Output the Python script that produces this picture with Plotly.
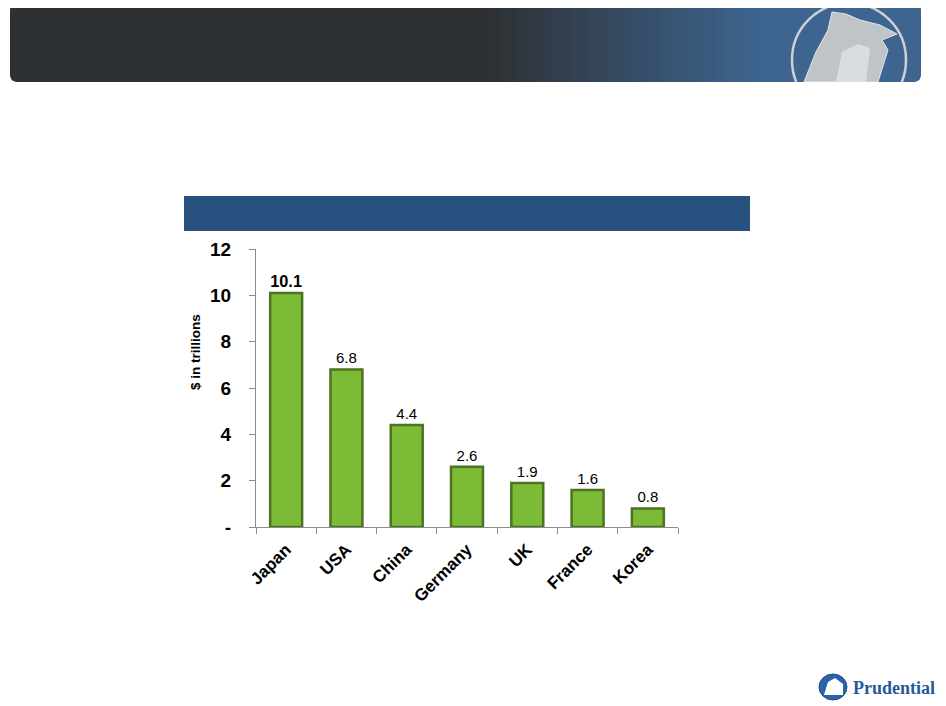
import plotly.graph_objects as go

# the page puts the figure 8px in from the window corner
OFF = 8
W, H = 946 - OFF, 706 - OFF

countries = ["Japan", "USA", "China", "Germany", "UK", "France", "Korea"]
values = [10.1, 6.8, 4.4, 2.6, 1.9, 1.6, 0.8]
value_labels = ["10.1", "6.8", "4.4", "2.6", "1.9", "1.6", "0.8"]
y_ticks = [0, 2, 4, 6, 8, 10, 12]
y_tick_labels = ["-", "2", "4", "6", "8", "10", "12"]


def px_x(x):
    return (x - OFF) / W


def px_y(y):
    return 1 - (y - OFF) / H


def hexmix(c1, c2, t):
    a = [int(c1[i:i + 2], 16) for i in (1, 3, 5)]
    b = [int(c2[i:i + 2], 16) for i in (1, 3, 5)]
    return "#" + "".join("%02x" % round(a[k] + (b[k] - a[k]) * t) for k in range(3))


def pts_path(points):
    return "M " + " L ".join("%f,%f" % (px_x(x), px_y(y)) for x, y in points) + " Z"


def round_rect(x0, x1, y0, y1, r, left=True, right=True):
    # rectangle path with optional rounded corners, in page pixels
    p = []
    if left:
        p += [(x0, y0 + r), (x0 + r * 0.3, y0 + r * 0.3), (x0 + r, y0)]
    else:
        p += [(x0, y0)]
    if right:
        p += [(x1 - r, y0), (x1 - r * 0.3, y0 + r * 0.3), (x1, y0 + r),
              (x1, y1 - r), (x1 - r * 0.3, y1 - r * 0.3), (x1 - r, y1)]
    else:
        p += [(x1, y0), (x1, y1)]
    if left:
        p += [(x0 + r, y1), (x0 + r * 0.3, y1 - r * 0.3), (x0, y1 - r)]
    else:
        p += [(x0, y1)]
    return pts_path(p)


fig = go.Figure()

fig.add_trace(go.Bar(
    x=countries,
    y=values,
    text=value_labels,
    textposition="outside",
    cliponaxis=False,
    marker=dict(color="#7CBB36", line=dict(color="#4C7222", width=2.5)),
    showlegend=False,
))

# first label is bold and larger
fig.data[0].textfont = dict(
    family="Liberation Sans, Arial, sans-serif",
    size=[19.5, 15, 15, 15, 15, 15, 15],
    color="#000000",
)
fig.data[0].texttemplate = ["<b>%{text}</b>"] + ["%{text}"] * 6

shapes = []

# header banner: dark grey on the left, fading to blue on the right
left_col, right_col = "#2E3134", "#3D6590"
shapes.append(dict(type="path", xref="paper", yref="paper",
                   path=round_rect(10, 491, 3, 82, 6, right=False),
                   fillcolor=left_col, line=dict(width=0), layer="below"))
steps = 30
for i in range(steps):
    xa = 490 + (760 - 490) * i / steps
    xb = 490 + (760 - 490) * (i + 1) / steps + 0.6
    shapes.append(dict(type="rect", xref="paper", yref="paper",
                       x0=px_x(xa), x1=px_x(xb), y0=px_y(82), y1=px_y(3),
                       fillcolor=hexmix(left_col, right_col, (i + 0.5) / steps),
                       line=dict(width=0), layer="below"))
shapes.append(dict(type="path", xref="paper", yref="paper",
                   path=round_rect(760, 921, 3, 82, 6, left=False),
                   fillcolor=right_col, line=dict(width=0), layer="below"))

# emblem in the banner
shapes.append(dict(type="path", xref="paper", yref="paper",
                   path=pts_path([(804, 82), (816, 52), (828, 30), (832, 12), (846, 14),
                                  (860, 20), (880, 25), (897, 34), (882, 40), (888, 50),
                                  (878, 82)]),
                   fillcolor="#BFC4C9", line=dict(color="#E2E5E8", width=1),
                   layer="below"))
shapes.append(dict(type="path", xref="paper", yref="paper",
                   path=pts_path([(836, 82), (842, 52), (858, 44), (870, 48), (866, 82)]),
                   fillcolor="#DADDE0", line=dict(width=0), layer="below"))
shapes.append(dict(type="circle", xref="paper", yref="paper",
                   x0=px_x(792), x1=px_x(906), y0=px_y(117), y1=px_y(3),
                   fillcolor="rgba(0,0,0,0)", line=dict(color="#CDD1D5", width=2.5),
                   layer="below"))
shapes.append(dict(type="rect", xref="paper", yref="paper",
                   x0=px_x(780), x1=px_x(940), y0=px_y(125), y1=px_y(82),
                   fillcolor="#FFFFFF", line=dict(width=0), layer="below"))

# blue title bar above the chart
shapes.append(dict(type="rect", xref="paper", yref="paper",
                   x0=px_x(184), x1=px_x(750), y0=px_y(231), y1=px_y(196),
                   fillcolor="#28517F", line=dict(width=0), layer="below"))

# small logo icon, bottom right
shapes.append(dict(type="circle", xref="paper", yref="paper",
                   x0=px_x(819), x1=px_x(847), y0=px_y(700), y1=px_y(674),
                   fillcolor="#2B63A8", line=dict(color="#1F4F8C", width=1)))
shapes.append(dict(type="path", xref="paper", yref="paper",
                   path=pts_path([(824, 695), (828, 682), (835, 678), (843, 684), (843, 695)]),
                   fillcolor="#FFFFFF", line=dict(width=0)))

fig.update_layout(
    width=W,
    height=H,
    margin=dict(l=0, r=0, t=0, b=0),
    paper_bgcolor="#FFFFFF",
    plot_bgcolor="#FFFFFF",
    bargap=0.47,
    shapes=shapes,
    font=dict(family="Liberation Sans, Arial, sans-serif", color="#000000"),
    xaxis=dict(
        domain=[px_x(256), px_x(678)],
        automargin=False,
        showline=True,
        linecolor="#8C8C8C",
        linewidth=1,
        ticks="outside",
        tickson="boundaries",
        ticklen=6,
        tickcolor="#8C8C8C",
        tickangle=-45,
        tickfont=dict(size=17, family="Liberation Sans, Arial, sans-serif"),
        tickvals=countries,
        ticktext=["<b>%s</b>" % c for c in countries],
        ticklabelstandoff=5,
        showgrid=False,
        zeroline=False,
    ),
    yaxis=dict(
        domain=[px_y(527), px_y(249)],
        automargin=False,
        range=[0, 12],
        tickvals=y_ticks,
        ticktext=["<b>%s</b>" % t for t in y_tick_labels],
        tickfont=dict(size=19, family="Liberation Sans, Arial, sans-serif"),
        showline=True,
        linecolor="#8C8C8C",
        linewidth=1,
        ticks="outside",
        ticklen=6,
        tickcolor="#8C8C8C",
        ticklabelstandoff=14,
        showgrid=False,
        zeroline=False,
    ),
    annotations=[
        dict(xref="paper", yref="paper", x=px_x(195), y=px_y(352),
             xanchor="center", yanchor="middle",
             text="<b>$ in trillions</b>", textangle=-90, showarrow=False,
             font=dict(size=13.5, color="#000000")),
        dict(xref="paper", yref="paper", x=px_x(851), y=px_y(688),
             xanchor="left", yanchor="middle",
             text="<b>Prudential</b>", showarrow=False,
             font=dict(size=18, color="#1F5C99",
                       family="Liberation Serif, DejaVu Serif, serif")),
    ],
)

fig.write_html("out.html")
